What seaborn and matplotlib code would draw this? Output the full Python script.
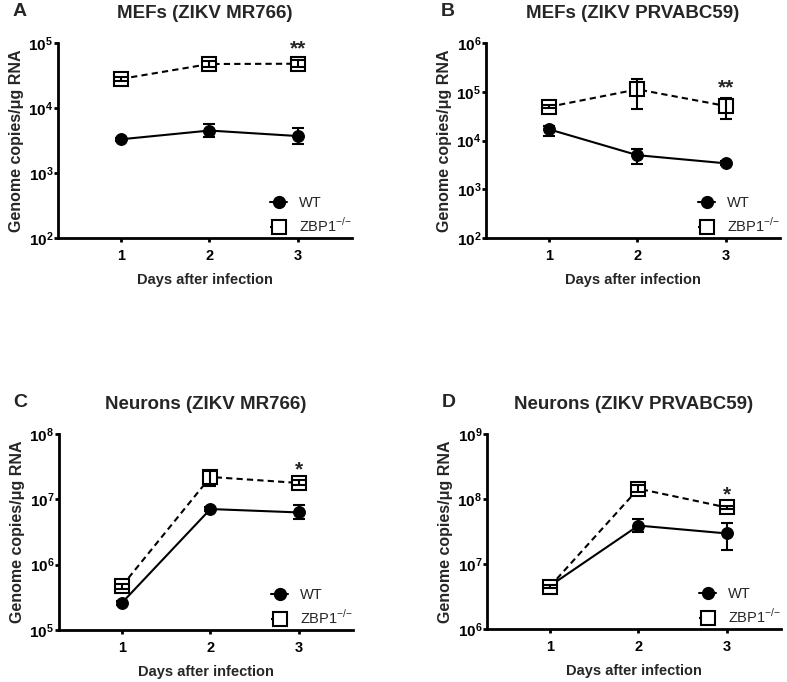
import numpy as np
import pandas as pd
import seaborn as sns
import matplotlib
matplotlib.use("Agg")
import matplotlib.pyplot as plt
from matplotlib.lines import Line2D

sns.set_theme(style="ticks")
plt.rcParams['font.family'] = ['Liberation Sans', 'DejaVu Sans']
plt.rcParams['mathtext.fontset'] = 'custom'
plt.rcParams['mathtext.rm'] = 'Liberation Sans'
plt.rcParams['mathtext.bf'] = 'Liberation Sans:bold'

days = [1, 2, 3]

# Panel A: MEFs (ZIKV MR766)
a_wt = [3.3e3, 4.5e3, 3.7e3]
a_wt_lo = [3.1e3, 3.55e3, 2.75e3]
a_wt_hi = [3.5e3, 5.6e3, 4.9e3]
a_ko = [2.8e4, 4.75e4, 4.8e4]
a_ko_lo = [2.6e4, 4.3e4, 4.2e4]
a_ko_hi = [3.0e4, 5.2e4, 5.5e4]

# Panel B: MEFs (ZIKV PRVABC59)
b_wt = [1.7e4, 5.0e3, 3.4e3]
b_wt_lo = [1.25e4, 3.3e3, 3.1e3]
b_wt_hi = [2.0e4, 6.7e3, 3.8e3]
b_ko = [4.9e4, 1.12e5, 5.1e4]
b_ko_lo = [4.6e4, 4.4e4, 2.8e4]
b_ko_hi = [5.3e4, 1.8e5, 7.3e4]

# Panel C: Neurons (ZIKV MR766)
c_wt = [2.6e5, 7.1e6, 6.3e6]
c_wt_lo = [2.4e5, 6.6e6, 5.0e6]
c_wt_hi = [2.8e5, 7.6e6, 8.3e6]
c_ko = [4.7e5, 2.2e7, 1.78e7]
c_ko_lo = [4.3e5, 1.6e7, 1.65e7]
c_ko_hi = [5.1e5, 2.7e7, 1.95e7]

# Panel D: Neurons (ZIKV PRVABC59)
d_wt = [4.6e6, 3.9e7, 2.95e7]
d_wt_lo = [4.3e6, 3.1e7, 1.63e7]
d_wt_hi = [4.9e6, 4.9e7, 4.3e7]
d_ko = [4.5e6, 1.44e8, 7.4e7]
d_ko_lo = [4.2e6, 1.3e8, 6.9e7]
d_ko_hi = [4.8e6, 1.62e8, 7.9e7]

titles = ["MEFs (ZIKV MR766)", "MEFs (ZIKV PRVABC59)",
          "Neurons (ZIKV MR766)", "Neurons (ZIKV PRVABC59)"]
letters = ["A", "B", "C", "D"]
ylims = [(1e2, 1e5), (1e2, 1e6), (1e5, 1e8), (1e6, 1e9)]
stars = ["**", "**", "*", "*"]
groups = ["WT", "ZBP1$^{{-}/{-}}$"]

panels = [
    (a_wt, a_wt_lo, a_wt_hi, a_ko, a_ko_lo, a_ko_hi),
    (b_wt, b_wt_lo, b_wt_hi, b_ko, b_ko_lo, b_ko_hi),
    (c_wt, c_wt_lo, c_wt_hi, c_ko, c_ko_lo, c_ko_hi),
    (d_wt, d_wt_lo, d_wt_hi, d_ko, d_ko_lo, d_ko_hi),
]

fig = plt.figure(figsize=(7.87, 6.82), dpi=100)
W, H = 787, 682
# axes boxes in pixels: left, top, right, bottom
boxes = [(58, 43, 352, 238), (486, 43, 780, 238),
         (59, 434, 353, 630), (487, 434, 781, 629)]

LW = 1.5
for i, (box, pdata) in enumerate(zip(boxes, panels)):
    l, t, r, b = box
    ax = fig.add_axes([l / W, 1 - b / H, (r - l) / W, (b - t) / H])
    wt, wt_lo, wt_hi, ko, ko_lo, ko_hi = pdata
    df = pd.DataFrame({
        "day": days * 2,
        "value": list(wt) + list(ko),
        "group": [groups[0]] * 3 + [groups[1]] * 3,
    })
    sns.lineplot(data=df, x="day", y="value", hue="group", style="group",
                 markers={groups[0]: "o", groups[1]: "s"},
                 dashes={groups[0]: "", groups[1]: (3, 2)},
                 palette={groups[0]: "black", groups[1]: "black"},
                 markersize=9, linewidth=LW, legend=False, ax=ax, zorder=3)
    for ln in ax.get_lines():
        if ln.get_marker() == "s":
            ln.set_markerfacecolor("white")
            ln.set_markeredgecolor("black")
            ln.set_markeredgewidth(LW)
            ln.set_markersize(10)
        else:
            ln.set_markerfacecolor("black")
            ln.set_markeredgecolor("black")
            ln.set_markersize(8.5)
    ax.errorbar(days, wt, yerr=[np.array(wt) - np.array(wt_lo), np.array(wt_hi) - np.array(wt)],
                fmt="none", ecolor="black", elinewidth=LW, capsize=4.2, capthick=LW, zorder=2)
    ax.errorbar(days, ko, yerr=[np.array(ko) - np.array(ko_lo), np.array(ko_hi) - np.array(ko)],
                fmt="none", ecolor="black", elinewidth=LW, capsize=4.2, capthick=LW, zorder=4)
    ax.set_yscale("log")
    ax.set_ylim(*ylims[i])
    ax.set_xlim(0.29, 3.61)
    ax.set_xticks(days)
    ax.set_xticklabels([str(d) for d in days], fontweight="bold", fontsize=10.5)
    lo_e = int(np.log10(ylims[i][0]))
    hi_e = int(np.log10(ylims[i][1]))
    yt = [10.0 ** e for e in range(lo_e, hi_e + 1)]
    ax.set_yticks(yt)
    ax.set_yticklabels([r"$\mathbf{10^{%d}}$" % e for e in range(lo_e, hi_e + 1)], fontsize=11)
    ax.yaxis.set_minor_locator(matplotlib.ticker.NullLocator())
    ax.set_xlabel("Days after infection", fontweight="bold", fontsize=10.5, labelpad=7)
    ax.set_ylabel("Genome copies/\u03bcg RNA", fontweight="bold", fontsize=11.5, labelpad=3)
    for s in ["top", "right"]:
        ax.spines[s].set_visible(False)
    for s in ["left", "bottom"]:
        ax.spines[s].set_linewidth(2)
        ax.spines[s].set_color("black")
    ax.tick_params(axis="both", width=2, length=3, color="black", labelcolor="black")
    ax.tick_params(axis="y", pad=0.5)
    ax.tick_params(axis="x", pad=5)
    ax.set_title(titles[i], fontweight="bold", fontsize=13.5, pad=18)
    ax.text(-0.154, 1.16, letters[i], transform=ax.transAxes, fontweight="bold",
            fontsize=14, ha="left", va="center")
    ax.annotate(stars[i], xy=(3, ko_hi[2]), xytext=(0, 1), textcoords="offset points",
                ha="center", va="bottom", fontweight="bold", fontsize=15)
    handles = [
        Line2D([], [], color="black", marker="o", markersize=8.5, linewidth=LW,
               markerfacecolor="black"),
        Line2D([], [], color="black", marker="s", markersize=10, linewidth=LW,
               linestyle=(0, (2, 1.5)), markerfacecolor="white", markeredgewidth=LW),
    ]
    ax.legend(handles, groups, loc="lower right", bbox_to_anchor=(1.02, -0.015),
              frameon=False, fontsize=10.5, handlelength=1.2, handletextpad=0.8,
              labelspacing=0.45, borderaxespad=0.0)

fig.savefig("out.png", dpi=100, facecolor="white")
